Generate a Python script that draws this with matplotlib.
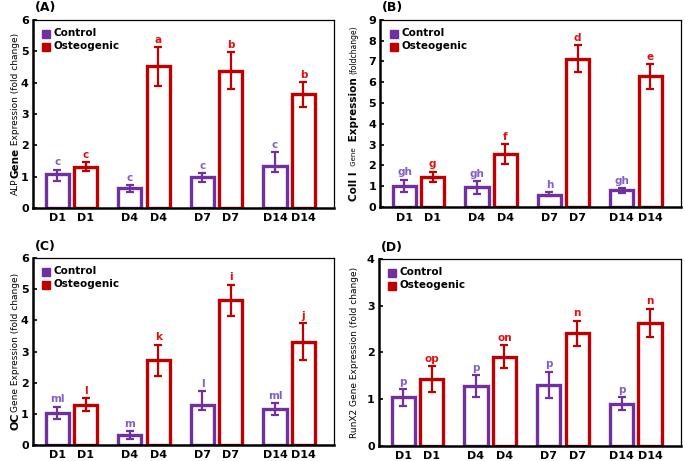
import matplotlib
matplotlib.use("Agg")
import matplotlib.pyplot as plt
import numpy as np

days = ["D1", "D4", "D7", "D14"]

# Panel A: ALP
alp_ctrl = [1.07, 0.62, 1.0, 1.33]
alp_ctrl_lo = [0.2, 0.1, 0.16, 0.2]
alp_ctrl_hi = [0.15, 0.1, 0.12, 0.44]
alp_ost = [1.32, 4.52, 4.38, 3.62]
alp_ost_err = [0.15, 0.62, 0.6, 0.4]
alp_ctrl_let = ["c", "c", "c", "c"]
alp_ost_let = ["c", "a", "b", "b"]

# Panel B: Coll I
col_ctrl = [1.02, 0.96, 0.6, 0.82]
col_ctrl_lo = [0.32, 0.35, 0.09, 0.17]
col_ctrl_hi = [0.3, 0.28, 0.1, 0.1]
col_ost = [1.45, 2.56, 7.13, 6.28]
col_ost_err = [0.25, 0.48, 0.65, 0.6]
col_ctrl_let = ["gh", "gh", "h", "gh"]
col_ost_let = ["g", "f", "d", "e"]

# Panel C: OC
oc_ctrl = [1.03, 0.32, 1.28, 1.15]
oc_ctrl_lo = [0.2, 0.12, 0.16, 0.2]
oc_ctrl_hi = [0.2, 0.12, 0.44, 0.2]
oc_ost = [1.29, 2.72, 4.65, 3.32]
oc_ost_err = [0.2, 0.5, 0.5, 0.6]
oc_ctrl_let = ["ml", "m", "l", "ml"]
oc_ost_let = ["l", "k", "i", "j"]

# Panel D: RunX2
rx_ctrl = [1.04, 1.28, 1.31, 0.9]
rx_ctrl_err = [0.18, 0.24, 0.28, 0.14]
rx_ost = [1.43, 1.91, 2.41, 2.64]
rx_ost_err = [0.28, 0.25, 0.27, 0.3]
rx_ctrl_let = ["p", "p", "p", "p"]
rx_ost_let = ["op", "on", "n", "n"]

PURPLE = "#7030A0"
RED = "#C00000"
PURPLE_TXT = "#8060C8"
RED_TXT = "#E01010"

fig = plt.figure(figsize=(6.85, 4.61), dpi=100)

panels = [
    dict(pos=[0.048, 0.549, 0.440, 0.408], ymax=6, label="(A)", xl=0.022,
         ctrl=alp_ctrl, cerr=[alp_ctrl_lo, alp_ctrl_hi], ost=alp_ost, oerr=alp_ost_err,
         clet=alp_ctrl_let, olet=alp_ost_let,
         ylab=[("ALP", "normal", 6.5), ("Gene", "bold", 7.5), (" Expression (fold change)", "normal", 6.5)]),
    dict(pos=[0.555, 0.551, 0.439, 0.406], ymax=9, label="(B)", xl=0.517,
         ctrl=col_ctrl, cerr=[col_ctrl_lo, col_ctrl_hi], ost=col_ost, oerr=col_ost_err,
         clet=col_ctrl_let, olet=col_ost_let,
         ylab=[("Coll I ", "bold", 7.5), (" Gene ", "normal", 5), (" Expression ", "bold", 7.5), ("(foldchange)", "normal", 5.5)]),
    dict(pos=[0.048, 0.035, 0.440, 0.405], ymax=6, label="(C)", xl=0.022,
         ctrl=oc_ctrl, cerr=[oc_ctrl_lo, oc_ctrl_hi], ost=oc_ost, oerr=oc_ost_err,
         clet=oc_ctrl_let, olet=oc_ost_let,
         ylab=[("OC", "bold", 8), ("Gene Expression (fold change)", "normal", 6.5)]),
    dict(pos=[0.553, 0.033, 0.441, 0.405], ymax=4, label="(D)", xl=0.517,
         ctrl=rx_ctrl, cerr=rx_ctrl_err, ost=rx_ost, oerr=rx_ost_err,
         clet=rx_ctrl_let, olet=rx_ost_let,
         ylab=[("RunX2 Gene Expression (fold change)", "normal", 6.5)]),
]

off = 0.195
bw = 0.32
axes = []
for p in panels:
    ax = fig.add_axes(p["pos"])
    axes.append(ax)
    x = np.arange(len(days))
    xc = x - off
    xo = x + off
    ax.bar(xc, p["ctrl"], width=bw, facecolor="white", edgecolor=PURPLE, linewidth=2.4, zorder=2)
    ax.bar(xo, p["ost"], width=bw, facecolor="white", edgecolor=RED, linewidth=2.4, zorder=2)
    ax.errorbar(xc, p["ctrl"], yerr=p["cerr"], fmt="none", ecolor=PURPLE, elinewidth=1.6, capsize=3, capthick=1.6, zorder=3)
    ax.errorbar(xo, p["ost"], yerr=p["oerr"], fmt="none", ecolor=RED, elinewidth=1.6, capsize=3, capthick=1.6, zorder=3)
    cerr = np.array(p["cerr"])
    chi = cerr[1] if cerr.ndim == 2 else cerr
    pad = p["ymax"] * 0.012
    for xi, v, e, t in zip(xc, p["ctrl"], chi, p["clet"]):
        ax.text(xi, v + e + pad, t, ha="center", va="bottom", color=PURPLE_TXT, fontsize=7.5, fontweight="bold")
    for xi, v, e, t in zip(xo, p["ost"], p["oerr"], p["olet"]):
        ax.text(xi, v + e + pad, t, ha="center", va="bottom", color=RED_TXT, fontsize=7.5, fontweight="bold")
    ax.set_xlim(-0.53, 3.62)
    ax.set_ylim(0, p["ymax"])
    ax.set_yticks(range(0, p["ymax"] + 1))
    ax.set_xticks(list(xc) + list(xo))
    ax.set_xticklabels(days + days)
    ax.tick_params(axis="x", length=0, pad=4, labelsize=8)
    ax.tick_params(axis="y", direction="in", length=3, width=1.2, labelsize=8, pad=3)
    for lab in ax.get_xticklabels() + ax.get_yticklabels():
        lab.set_fontweight("bold")
    ax.spines["left"].set_linewidth(1.8)
    ax.spines["bottom"].set_linewidth(1.8)
    ax.spines["top"].set_linewidth(0.9)
    ax.spines["right"].set_linewidth(0.9)
    # legend
    ax.plot([0.045], [0.925], marker="s", ms=6, color=PURPLE, transform=ax.transAxes, clip_on=False)
    ax.plot([0.045], [0.855], marker="s", ms=6, color=RED, transform=ax.transAxes, clip_on=False)
    ax.text(0.07, 0.93, "Control", transform=ax.transAxes, va="center", ha="left", fontsize=7.5, fontweight="bold")
    ax.text(0.07, 0.86, "Osteogenic", transform=ax.transAxes, va="center", ha="left", fontsize=7.5, fontweight="bold")
    # panel label
    bb = p["pos"]
    fig.text(bb[0] + 0.003, bb[1] + bb[3] + 0.012, p["label"], fontsize=9, fontweight="bold", ha="left", va="bottom")

# multi-style y labels, stacked bottom to top
fig.canvas.draw()
renderer = fig.canvas.get_renderer()
for ax, p in zip(axes, panels):
    bb = p["pos"]
    xlab = p["xl"]
    texts = []
    heights = []
    for s, w, fs in p["ylab"]:
        t = fig.text(xlab, 0.5, s, rotation=90, fontsize=fs, fontweight=w, ha="center", va="bottom")
        texts.append(t)
        ext = t.get_window_extent(renderer)
        heights.append(ext.height / fig.bbox.height)
    total = sum(heights)
    y0 = bb[1] + bb[3] / 2 - total / 2
    for t, h in zip(texts, heights):
        t.set_position((xlab, y0))
        y0 += h

fig.savefig("out.png", dpi=100)
